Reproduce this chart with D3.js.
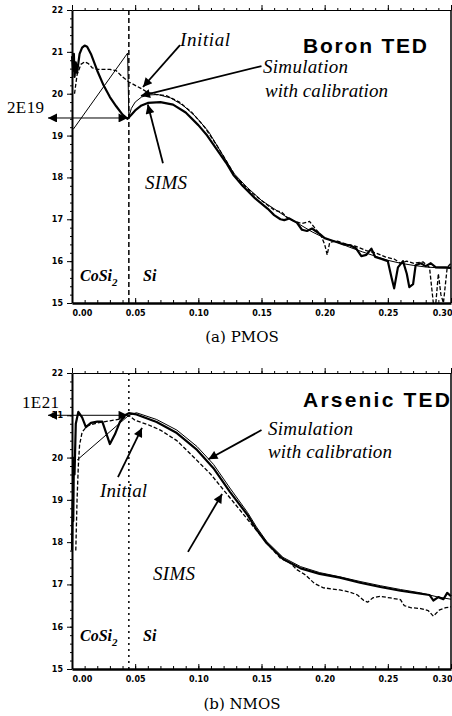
<!DOCTYPE html>
<meta charset="utf-8">
<style>
body { margin: 0; background: #fff; }
svg { display: block; }
.axis path, .axis line { stroke: #000; }
.axis text { font-family: "DejaVu Sans", sans-serif; font-size: 8px; font-weight: bold; fill: #000; }
.lbl { font-family: "Liberation Serif", serif; font-style: italic; font-size: 19px; }
.title { font-family: "Liberation Sans", Arial, sans-serif; font-weight: bold; font-size: 21px; }
.layer { font-family: "Liberation Serif", serif; font-style: italic; font-weight: bold; font-size: 16px; }
.mark { font-family: "Liberation Serif", serif; font-size: 17px; }
.cap { font-family: "DejaVu Serif", serif; font-size: 15px; }
</style>
<svg width="452" height="716"></svg>
<script src="https://d3js.org/d3.v7.min.js"></script>
<script>

// depth (um) / log10 concentration
var depthTicks = [0, 0.05, 0.10, 0.15, 0.20, 0.25, 0.30],
    concTicks = [15, 16, 17, 18, 19, 20, 21, 22],
    interfaceDepth = 0.045;

// Boron: noisy thick solid
var boronSims = [
  [0.000, 20.90], [0.001, 20.55], [0.0015, 20.95], [0.002, 20.40], [0.003, 20.75], [0.004, 20.50],
  [0.006, 20.95], [0.008, 21.10], [0.010, 21.15], [0.012, 21.12], [0.015, 20.95], [0.020, 20.55],
  [0.025, 20.20], [0.030, 19.92], [0.035, 19.70], [0.040, 19.50], [0.044, 19.40], [0.047, 19.50],
  [0.050, 19.60], [0.055, 19.72], [0.060, 19.78], [0.070, 19.80], [0.080, 19.74], [0.090, 19.55],
  [0.100, 19.25], [0.107, 19.00], [0.115, 18.65], [0.122, 18.35], [0.128, 18.05], [0.135, 17.80],
  [0.145, 17.50], [0.155, 17.25], [0.160, 17.10], [0.165, 17.00], [0.168, 16.98], [0.172, 17.02],
  [0.178, 16.92], [0.182, 16.75], [0.186, 16.72], [0.190, 16.78], [0.196, 16.65], [0.200, 16.55],
  [0.205, 16.50], [0.210, 16.45], [0.215, 16.40], [0.220, 16.38], [0.225, 16.30], [0.229, 16.12],
  [0.233, 16.15], [0.237, 16.30], [0.240, 16.10], [0.245, 16.05], [0.250, 16.00], [0.253, 15.60],
  [0.255, 15.35], [0.258, 15.85], [0.262, 16.00], [0.265, 15.70], [0.267, 15.38], [0.270, 15.45],
  [0.272, 15.90], [0.276, 15.95], [0.280, 15.88], [0.284, 15.95], [0.288, 15.85], [0.292, 15.85],
  [0.296, 15.85], [0.300, 15.84]
];
// Boron: dashed
var boronDashed = [
  [0.002, 20.00], [0.004, 20.45], [0.007, 20.70], [0.010, 20.76], [0.013, 20.72], [0.016, 20.62],
  [0.020, 20.58], [0.030, 20.58], [0.035, 20.55], [0.040, 20.40], [0.045, 20.28], [0.050, 20.20],
  [0.055, 20.12], [0.060, 20.03], [0.067, 19.98], [0.075, 19.95], [0.085, 19.80], [0.095, 19.55],
  [0.105, 19.20], [0.115, 18.75], [0.122, 18.40], [0.130, 18.00], [0.140, 17.70], [0.150, 17.45],
  [0.160, 17.22], [0.166, 17.17], [0.170, 17.05], [0.176, 16.95], [0.182, 16.90], [0.188, 16.95],
  [0.192, 16.80], [0.197, 16.62], [0.200, 16.40], [0.202, 16.15], [0.204, 16.45], [0.210, 16.48],
  [0.218, 16.40], [0.225, 16.35], [0.233, 16.25], [0.240, 16.20], [0.248, 16.10], [0.255, 16.05],
  [0.260, 15.95], [0.265, 16.00], [0.270, 15.95], [0.278, 15.98], [0.283, 15.85], [0.286, 15.00],
  [0.288, 15.00], [0.290, 15.70], [0.292, 15.20], [0.294, 15.00], [0.297, 15.85], [0.300, 15.95]
];
// Boron: thin solid
var boronSim = [
  [0.001, 19.15], [0.044, 20.97], [0.045, 19.45], [0.047, 19.65], [0.050, 19.80], [0.055, 19.92],
  [0.060, 19.97], [0.068, 19.98], [0.078, 19.90], [0.088, 19.72], [0.098, 19.45], [0.108, 19.10],
  [0.118, 18.60], [0.128, 18.10], [0.138, 17.78], [0.150, 17.45], [0.160, 17.25], [0.170, 17.05],
  [0.180, 16.88], [0.190, 16.70], [0.200, 16.55], [0.210, 16.45], [0.220, 16.33], [0.230, 16.22],
  [0.240, 16.12], [0.250, 16.02], [0.260, 15.95], [0.270, 15.90], [0.280, 15.86], [0.290, 15.84],
  [0.300, 15.83]
];

// Arsenic: noisy thick solid
var arsenicSims = [
  [0.000, 17.80], [0.0005, 19.00], [0.001, 18.50], [0.0015, 20.00], [0.002, 19.60], [0.003, 20.80],
  [0.005, 21.08], [0.008, 20.95], [0.011, 20.72], [0.015, 20.82], [0.020, 20.85], [0.024, 20.85],
  [0.030, 20.32], [0.034, 20.55], [0.038, 20.85], [0.042, 21.00], [0.045, 21.05], [0.051, 21.02],
  [0.067, 20.84], [0.083, 20.58], [0.099, 20.18], [0.112, 19.75], [0.125, 19.19], [0.139, 18.64],
  [0.146, 18.30], [0.154, 17.98], [0.167, 17.60], [0.181, 17.38], [0.196, 17.25], [0.212, 17.16],
  [0.228, 17.04], [0.244, 16.94], [0.260, 16.85], [0.276, 16.78], [0.283, 16.75], [0.286, 16.62],
  [0.290, 16.70], [0.294, 16.65], [0.297, 16.80], [0.300, 16.72]
];
// Arsenic: dashed
var arsenicDashed = [
  [0.003, 17.80], [0.004, 19.00], [0.005, 19.80], [0.006, 20.30], [0.008, 20.60], [0.012, 20.75],
  [0.020, 20.82], [0.030, 20.87], [0.040, 20.92], [0.045, 21.00], [0.050, 20.88], [0.060, 20.78],
  [0.070, 20.65], [0.083, 20.40], [0.095, 20.05], [0.110, 19.60], [0.125, 19.05], [0.140, 18.50],
  [0.155, 17.95], [0.165, 17.62], [0.173, 17.50], [0.178, 17.35], [0.185, 17.22], [0.192, 17.02],
  [0.199, 16.92], [0.212, 16.87], [0.220, 16.82], [0.226, 16.75], [0.231, 16.62], [0.234, 16.58],
  [0.238, 16.68], [0.244, 16.72], [0.252, 16.68], [0.260, 16.64], [0.263, 16.50], [0.268, 16.45],
  [0.276, 16.43], [0.282, 16.38], [0.286, 16.25], [0.291, 16.40], [0.296, 16.45], [0.300, 16.47]
];
// Arsenic: thin solid
var arsenicSim = [
  [0.004, 19.94], [0.045, 21.00], [0.051, 21.06], [0.067, 20.90], [0.083, 20.65], [0.099, 20.26],
  [0.112, 19.84], [0.125, 19.28], [0.139, 18.70], [0.146, 18.36], [0.154, 18.02], [0.167, 17.64],
  [0.181, 17.42], [0.196, 17.28], [0.212, 17.18], [0.228, 17.07], [0.244, 16.97], [0.260, 16.88],
  [0.276, 16.80], [0.290, 16.70], [0.300, 16.65]
];

var svg = d3.select("svg");

var defs = svg.append("defs");
defs.append("marker")
    .attr("id", "head")
    .attr("viewBox", "0 0 10 10")
    .attr("refX", 10).attr("refY", 5)
    .attr("markerUnits", "userSpaceOnUse")
    .attr("markerWidth", 11).attr("markerHeight", 9)
    .attr("orient", "auto-start-reverse")
  .append("path")
    .attr("d", "M0,0L10,5L0,10z")
    .attr("fill", "#000");

var x = d3.scaleLinear().domain([0, 0.30]).range([72, 451]);

var panels = [
  {
    top: 10, bottom: 303, sep: "5,3",
    series: [boronSim, boronDashed, boronSims],
    title: "Boron TED", titleY: 53, titleLen: 124,
    level: 19.42, levelText: "2E19", levelTextX: 7, levelTextY: 113,
    arrows: [
      [[0.0855, 21.16], [0.0562, 20.16]],
      [[0.150, 20.66], [0.0546, 19.95]],
      [[0.072, 18.34], [0.060, 19.74]]
    ],
    texts: [
      ["Initial", 180, 46, 50], ["Simulation", 263, 73, 85],
      ["with calibration", 265, 97, 123], ["SIMS", 145, 189, 42]
    ],
    layerY: 281, caption: "(a)  PMOS", capY: 342
  },
  {
    top: 373, bottom: 669, sep: "2,4",
    series: [arsenicSim, arsenicDashed, arsenicSims],
    title: "Arsenic TED", titleY: 407, titleLen: 147,
    level: 21.0, levelText: "1E21", levelTextX: 22, levelTextY: 408,
    arrows: [
      [[0.150, 20.65], [0.108, 19.96]],
      [[0.0364, 19.54], [0.0554, 20.70]],
      [[0.0918, 17.77], [0.1188, 19.14]]
    ],
    texts: [
      ["Simulation", 268, 435, 85], ["with calibration", 268, 458, 124],
      ["Initial", 100, 497, 47], ["SIMS", 153, 580, 42]
    ],
    layerY: 641, caption: "(b)  NMOS", capY: 709
  }
];

var styles = [
  {w: 1, dash: null},
  {w: 1.3, dash: "4,2"},
  {w: 2.2, dash: null}
];

panels.forEach(function(p) {
  var y = d3.scaleLinear().domain([15, 22]).range([p.bottom, p.top]);
  var g = svg.append("g");

  var line = d3.line()
      .x(function(d) { return x(d[0]); })
      .y(function(d) { return y(d[1]); });

  // minor ticks
  g.append("g").attr("class", "axis")
      .attr("transform", "translate(0," + p.bottom + ")")
      .call(d3.axisBottom(x).tickValues(d3.range(0, 0.301, 0.01)).tickSize(-3).tickFormat(""))
      .select(".domain").remove();
  g.append("g").attr("class", "axis")
      .attr("transform", "translate(0," + p.top + ")")
      .call(d3.axisTop(x).tickValues(d3.range(0, 0.301, 0.01)).tickSize(2).tickFormat(""))
      .select(".domain").remove();
  g.append("g").attr("class", "axis")
      .attr("transform", "translate(72,0)")
      .call(d3.axisLeft(y).tickValues(d3.range(15, 22.01, 0.2)).tickSize(2).tickFormat(""))
      .select(".domain").remove();

  // major axes
  var xb = g.append("g").attr("class", "axis")
      .attr("transform", "translate(0," + p.bottom + ")")
      .call(d3.axisBottom(x).tickValues(depthTicks).tickSizeInner(-5).tickSizeOuter(0)
        .tickPadding(7).tickFormat(d3.format(".2f")));
  xb.select(".domain").attr("stroke-width", 2.5);
  xb.selectAll("text")
      .attr("text-anchor", function(d, i) {
        return i === 0 ? "start" : (i === depthTicks.length - 1 ? "end" : "middle");
      })
      .attr("dx", function(d, i) { return i === 0 ? 0 : (i === depthTicks.length - 1 ? 1 : 0); });

  g.append("g").attr("class", "axis")
      .attr("transform", "translate(0," + p.top + ")")
      .call(d3.axisTop(x).tickValues(depthTicks).tickSize(5).tickSizeOuter(0).tickFormat(""));

  g.append("g").attr("class", "axis")
      .attr("transform", "translate(72,0)")
      .call(d3.axisLeft(y).tickValues(concTicks).tickSize(5).tickSizeOuter(0).tickPadding(4)
        .tickFormat(d3.format("d")))
    .select(".domain").attr("stroke-width", 2);

  g.append("line")
      .attr("x1", x(0.30)).attr("x2", x(0.30))
      .attr("y1", p.top).attr("y2", p.bottom)
      .attr("stroke", "#000").attr("stroke-width", 1.5);

  // CoSi2 / Si interface
  g.append("line")
      .attr("x1", x(interfaceDepth)).attr("x2", x(interfaceDepth))
      .attr("y1", p.top).attr("y2", p.bottom)
      .attr("stroke", "#000").attr("stroke-width", 1.5)
      .attr("stroke-dasharray", p.sep);

  p.series.forEach(function(s, i) {
    g.append("path")
        .datum(s)
        .attr("d", line)
        .attr("fill", "none")
        .attr("stroke", "#000")
        .attr("stroke-width", styles[i].w)
        .attr("stroke-dasharray", styles[i].dash)
        .attr("stroke-linejoin", "round");
  });

  // level marker (double arrow out to the label)
  g.append("line")
      .attr("x1", x(-0.019)).attr("x2", x(interfaceDepth - 0.001))
      .attr("y1", y(p.level)).attr("y2", y(p.level))
      .attr("stroke", "#000").attr("stroke-width", 1)
      .attr("marker-start", "url(#head)")
      .attr("marker-end", "url(#head)");
  g.append("text").attr("class", "mark")
      .attr("x", p.levelTextX).attr("y", p.levelTextY)
      .attr("textLength", 37)
      .text(p.levelText);

  p.arrows.forEach(function(a) {
    g.append("line")
        .attr("x1", x(a[0][0])).attr("y1", y(a[0][1]))
        .attr("x2", x(a[1][0])).attr("y2", y(a[1][1]))
        .attr("stroke", "#000").attr("stroke-width", 1.8)
        .attr("marker-end", "url(#head)");
  });

  p.texts.forEach(function(t) {
    g.append("text").attr("class", "lbl")
        .attr("x", t[1]).attr("y", t[2])
        .attr("textLength", t[3])
        .text(t[0]);
  });

  g.append("text").attr("class", "title")
      .attr("x", 303).attr("y", p.titleY)
      .attr("textLength", p.titleLen)
      .text(p.title);

  var co = g.append("text").attr("class", "layer")
      .attr("x", 80).attr("y", p.layerY);
  co.append("tspan").text("CoSi");
  co.append("tspan").attr("dy", 5).attr("font-size", 11).text("2");
  g.append("text").attr("class", "layer")
      .attr("x", 143).attr("y", p.layerY)
      .text("Si");

  g.append("text").attr("class", "cap")
      .attr("x", 242).attr("y", p.capY)
      .attr("text-anchor", "middle")
      .text(p.caption);
});

</script>
